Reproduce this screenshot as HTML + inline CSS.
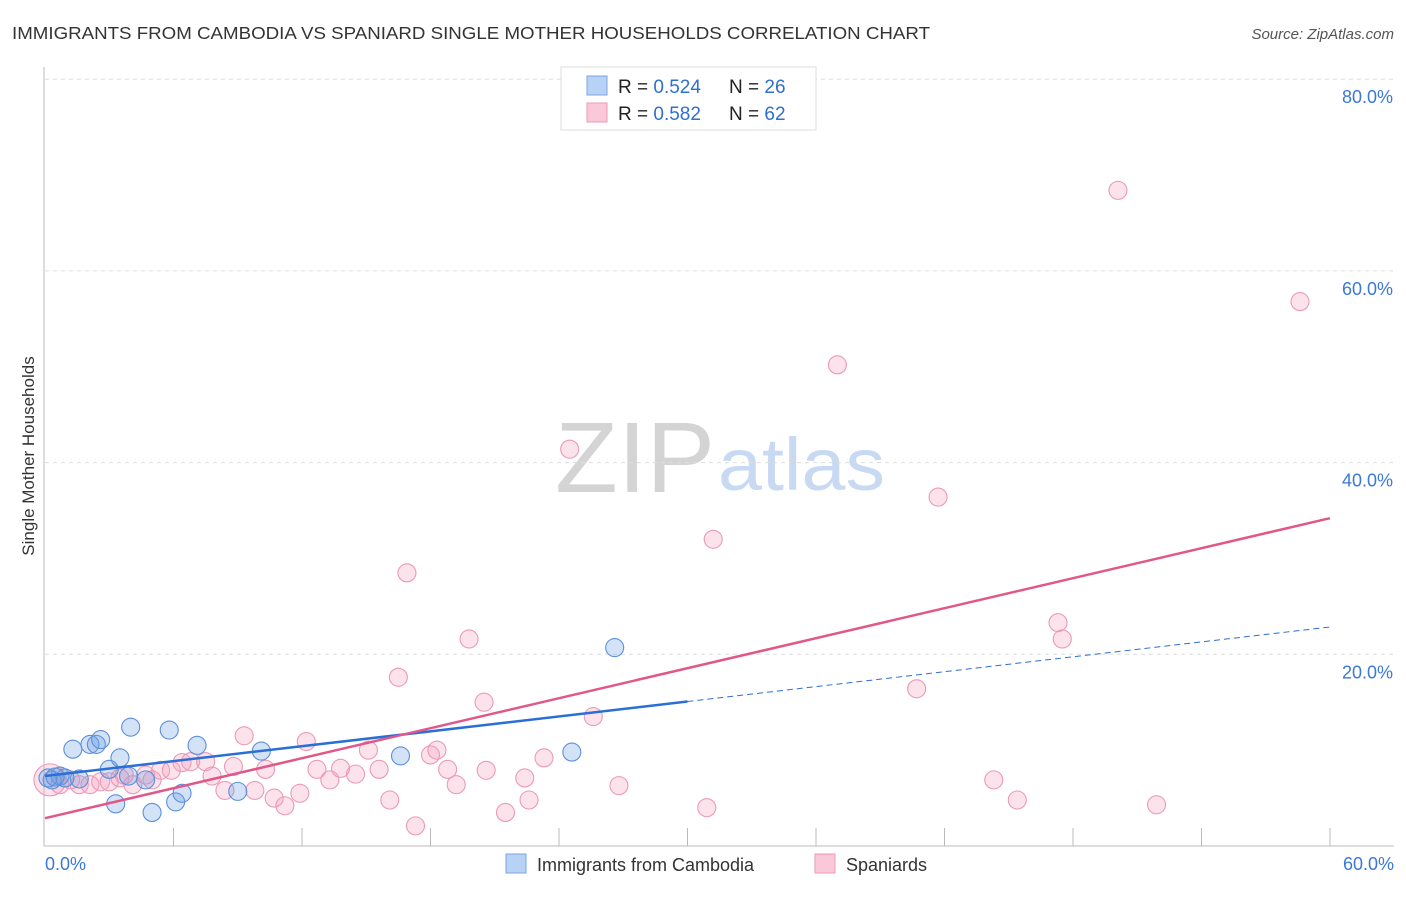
<!DOCTYPE html>
<html><head><meta charset="utf-8"><style>
body{margin:0;background:#fff;font-family:"Liberation Sans",sans-serif;}
svg text{font-family:"Liberation Sans",sans-serif;}
</style></head><body>
<svg id="chart" width="1406" height="892" xmlns="http://www.w3.org/2000/svg">
<text x="12" y="39" font-size="17.5" fill="#333" textLength="918" lengthAdjust="spacingAndGlyphs">IMMIGRANTS FROM CAMBODIA VS SPANIARD SINGLE MOTHER HOUSEHOLDS CORRELATION CHART</text>
<text x="1394" y="39" font-size="15" fill="#555" text-anchor="end" font-style="italic">Source: ZipAtlas.com</text>
<text x="555" y="492" font-size="100" fill="#d4d4d4" font-family="Liberation Serif" textLength="160" lengthAdjust="spacingAndGlyphs">ZIP</text>
<text x="718" y="490" font-size="74" fill="#c8daf2" textLength="167" lengthAdjust="spacingAndGlyphs">atlas</text>
<text transform="translate(34,456) rotate(-90)" font-size="17" fill="#333" text-anchor="middle">Single Mother Households</text>
<g id="grid"></g><g id="axes"></g><g id="pts"></g><g id="lines"></g>
<g>
<rect x="561" y="67" width="255" height="63" fill="#fff" stroke="#ddd"/>
<rect x="587" y="76" width="20" height="19" fill="#b8d2f5" stroke="#7aa6e3"/>
<rect x="587" y="103" width="20" height="19" fill="#fac8d8" stroke="#ee9ab6"/>
<text x="618" y="93" font-size="19" fill="#222">R = <tspan fill="#2f6fd0">0.524</tspan></text>
<text x="729" y="93" font-size="19" fill="#222">N = <tspan fill="#2f6fd0">26</tspan></text>
<text x="618" y="120" font-size="19" fill="#222">R = <tspan fill="#2f6fd0">0.582</tspan></text>
<text x="729" y="120" font-size="19" fill="#222">N = <tspan fill="#2f6fd0">62</tspan></text>
</g>
<g>
<rect x="506" y="854" width="20" height="19" fill="#b8d2f5" stroke="#7aa6e3"/>
<text x="537" y="871" font-size="18" fill="#333">Immigrants from Cambodia</text>
<rect x="815" y="854" width="20" height="19" fill="#fac8d8" stroke="#ee9ab6"/>
<text x="846" y="871" font-size="18" fill="#333">Spaniards</text>
</g>
</svg>
<script>
const blueX=[0.33,0.7,1.3,1.6,2.1,2.4,2.6,3.0,3.3,3.5,3.9,4.0,4.7,5.0,5.8,6.1,6.4,7.1,9.0,10.1,16.6,24.6,26.6,0.14,0.93,0.47];
const blueY=[6.9,7.3,10.1,7.0,10.6,10.6,11.1,8.0,4.4,9.2,7.3,12.4,6.9,3.5,12.1,4.6,5.5,10.5,5.7,9.9,9.4,9.8,20.7,7.1,7.1,7.2];
const pinkX=[0.23,0.7,1.2,1.6,2.1,2.6,3.0,3.5,3.7,4.1,4.7,5.0,5.4,5.9,6.4,6.8,7.5,7.8,8.4,8.8,9.3,9.8,10.3,10.7,11.2,11.9,12.2,12.7,13.3,13.8,14.5,15.1,15.6,16.1,16.5,16.9,17.3,18.0,18.3,18.8,19.2,19.8,20.6,20.5,21.5,22.4,22.6,23.3,24.5,25.6,26.8,30.9,31.2,37.0,40.7,41.7,44.3,45.4,47.3,47.5,50.1,51.9,58.6];
const pinkY=[6.9,6.4,6.9,6.4,6.4,6.7,6.7,7.1,7.4,6.4,7.4,6.9,7.9,7.9,8.7,8.8,8.8,7.3,5.8,8.3,11.5,5.8,8.0,5.0,4.2,5.5,10.9,8.0,6.9,8.1,7.5,10.0,8.0,4.8,17.6,28.5,2.1,9.5,10.0,8.0,6.4,21.6,7.9,15.0,3.5,7.1,4.8,9.2,41.4,13.5,6.3,4.0,32.0,50.2,16.4,36.4,6.9,4.8,23.3,21.6,68.4,4.3,56.8];
const blueTrend=[7.3,22.85]; const blueSolidEnd=30;
const pinkTrend=[2.9,34.2];
const yTicks=[20,40,60,80];
const xTickVals=[6,12,18,24,30,36,42,48,54,60];
const NS="http://www.w3.org/2000/svg";
const sx=v=>45+v*(1285/60), sy=v=>846-v*9.585;
function mk(t,a,p){const e=document.createElementNS(NS,t);for(const k in a)e.setAttribute(k,a[k]);p.appendChild(e);return e;}
const grid=document.getElementById('grid'),axes=document.getElementById('axes');
yTicks.forEach(v=>{
 const l=mk('line',{x1:45,x2:1394,y1:sy(v),y2:sy(v),stroke:'#ddd','stroke-dasharray':'4,4'},grid);
 
 
 const t=mk('text',{x:1393,y:sy(v)+24,'font-size':18,fill:'#3b78d8','text-anchor':'end'},axes);
 t.textContent=v.toFixed(1)+'%';
 
 
});
const ax=mk('line',{x1:44,x2:44,y1:67,y2:846,stroke:'#bbb'},axes);


const bx=mk('line',{x1:44,x2:1394,y1:846,y2:846,stroke:'#bbb'},axes);


xTickVals.forEach(v=>{const l=mk('line',{x1:sx(v),x2:sx(v),y1:828,y2:846,stroke:'#bbb'},axes);
 
 });
[[0,'0.0%',45,'start'],[60,'60.0%',1394,'end']].forEach(a=>{const t=mk('text',{x:a[2],y:870,'font-size':18,fill:'#3b78d8','text-anchor':a[3]},axes);t.textContent=a[1];
 
 });
const pts=document.getElementById('pts');
pinkX.forEach((x,i)=>{const c=mk('circle',{cx:sx(x),cy:sy(pinkY[i]),r:i==0?16:9,fill:'rgba(245,160,190,0.3)',stroke:'#eb9ab6','stroke-width':1.1},pts);
 
 });
blueX.forEach((x,i)=>{const c=mk('circle',{cx:sx(x),cy:sy(blueY[i]),r:9,fill:'rgba(110,160,230,0.3)',stroke:'#5a90dc','stroke-width':1.1},pts);
 
 });
const lines=document.getElementById('lines');
const bAt=x=>blueTrend[0]+(blueTrend[1]-blueTrend[0])*x/60;
const l1=mk('line',{x1:sx(0),y1:sy(bAt(0)),x2:sx(blueSolidEnd),y2:sy(bAt(blueSolidEnd)),stroke:'#2a6fd6','stroke-width':2.5},lines);


const l2=mk('line',{x1:sx(blueSolidEnd),y1:sy(bAt(blueSolidEnd)),x2:sx(60),y2:sy(bAt(60)),stroke:'#2a6fd6','stroke-width':1,'stroke-dasharray':'6,4'},lines);


const l3=mk('line',{x1:sx(0),y1:sy(pinkTrend[0]),x2:sx(60),y2:sy(pinkTrend[1]),stroke:'#e0588a','stroke-width':2.5},lines);


</script>
</body></html>
